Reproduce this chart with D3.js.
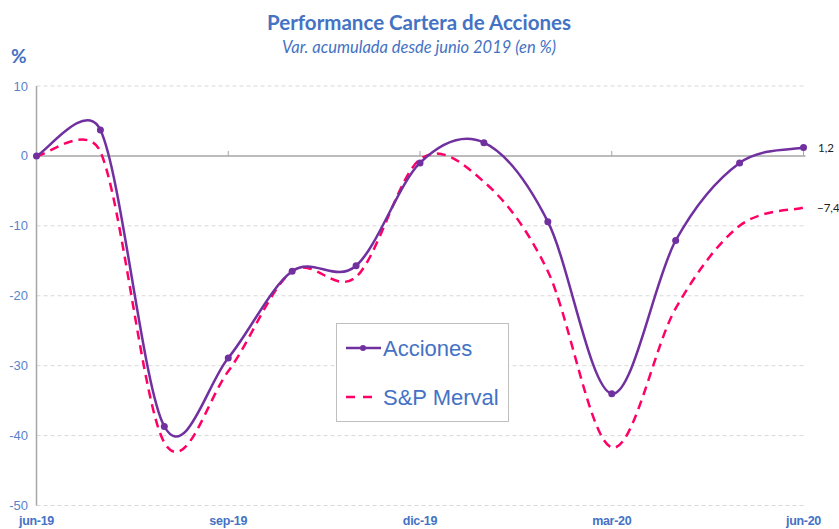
<!DOCTYPE html>
<html><head><meta charset="utf-8">
<script src="https://cdn.jsdelivr.net/npm/d3@7"></script>
<style>body{margin:0;background:#fff}svg{display:block}</style>
</head><body><svg id="c" width="839" height="529"></svg>
<script>
const months = ["jun-19","jul-19","ago-19","sep-19","oct-19","nov-19","dic-19","ene-20","feb-20","mar-20","abr-20","may-20","jun-20"];
const acciones = [0, 3.7, -38.7, -28.9, -16.5, -15.7, -1.0, 1.9, -9.4, -34.0, -12.1, -1.0, 1.2];
const merval = [0, 0.6, -41.0, -30.8, -16.5, -17.3, -0.5, -3.7, -16.5, -41.7, -21.8, -10.0, -7.4];
const yTicks = [10, 0, -10, -20, -30, -40, -50];
const xTickIdx = [0, 3, 6, 9, 12];
const seriesNames = ["Acciones", "S&P Merval"];

// Excel-style smoothed line as a d3 curve factory
function ExcelSmooth(context) { this._context = context; }
ExcelSmooth.prototype = {
  areaStart() { this._line = 0; }, areaEnd() { this._line = NaN; },
  lineStart() { this._pts = []; },
  point(x, y) { this._pts.push([+x, +y]); },
  lineEnd() {
    const p = this._pts, c = this._context, n = p.length;
    if (!n) return;
    c.moveTo(p[0][0], p[0][1]);
    const dist = (a, b) => Math.hypot(a[0] - b[0], a[1] - b[1]);
    for (let i = 0; i < n - 1; i++) {
      const p0 = p[Math.max(0, i - 1)], p1 = p[i], p2 = p[i + 1], p3 = p[Math.min(n - 1, i + 2)];
      const d12 = dist(p1, p2), d02 = dist(p0, p2), d13 = dist(p1, p3);
      const f1 = d02 > 0 ? Math.min(1 / 6, d12 / (2 * d02)) : 0;
      const f2 = d13 > 0 ? Math.min(1 / 6, d12 / (2 * d13)) : 0;
      c.bezierCurveTo(
        p1[0] + (p2[0] - p0[0]) * f1, p1[1] + (p2[1] - p0[1]) * f1,
        p2[0] - (p3[0] - p1[0]) * f2, p2[1] - (p3[1] - p1[1]) * f2,
        p2[0], p2[1]);
    }
  }
};
const curveExcel = ctx => new ExcelSmooth(ctx);

const svg = d3.select("#c");
const x = d3.scaleLinear().domain([0, 12]).range([36.5, 803.5]);
const y = d3.scaleLinear().domain([-50, 10]).range([505.5, 86]);
const blue = "#4472c4", purple = "#7030a0", pink = "#ff0066";

// grid
svg.append("g").selectAll("line").data(yTicks.filter(d => d !== 0)).join("line")
  .attr("x1", x(0)).attr("x2", x(12)).attr("y1", d => y(d)).attr("y2", d => y(d))
  .attr("stroke", "#d9d9d9").attr("stroke-dasharray", "4,3").attr("stroke-width", 1);

// zero line
svg.append("line").attr("x1", x(0)).attr("x2", x(12) + 2).attr("y1", y(0)).attr("y2", y(0))
  .attr("stroke", "#a6a6a6").attr("stroke-width", 1.5);
svg.append("g").selectAll("line").data(xTickIdx).join("line")
  .attr("x1", d => x(d)).attr("x2", d => x(d)).attr("y1", y(0)).attr("y2", y(0) - 5)
  .attr("stroke", "#a6a6a6").attr("stroke-width", 1);
// left axis
svg.append("line").attr("x1", x(0)).attr("x2", x(0)).attr("y1", y(10)).attr("y2", y(-50))
  .attr("stroke", "#a6a6a6").attr("stroke-width", 1.5);

// y labels
svg.append("g").selectAll("text").data(yTicks).join("text")
  .attr("x", 28).attr("y", d => y(d) + 4.5).attr("text-anchor", "end")
  .attr("font-family", "Liberation Sans, Arial, sans-serif").attr("font-size", 13)
  .attr("fill", "#5a82cc").text(d => d);

// x labels
svg.append("g").selectAll("text").data(xTickIdx).join("text")
  .attr("x", d => x(d)).attr("y", 525).attr("text-anchor", "middle")
  .attr("font-family", "Liberation Sans, Arial, sans-serif").attr("font-size", 12.5).attr("font-weight", "bold")
  .attr("letter-spacing", -0.3)
  .attr("fill", blue).text(d => months[d]);

// lines
const line = d3.line().x((d, i) => x(i)).y(d => y(d)).curve(curveExcel);
svg.append("path").attr("d", line(merval)).attr("fill", "none").attr("stroke", pink)
  .attr("stroke-width", 2.5).attr("stroke-dasharray", "9,6");
svg.append("path").attr("d", line(acciones)).attr("fill", "none").attr("stroke", purple)
  .attr("stroke-width", 2.5);
svg.append("g").selectAll("circle").data(acciones).join("circle")
  .attr("cx", (d, i) => x(i)).attr("cy", d => y(d)).attr("r", 3.5).attr("fill", purple);

// end labels
const endFmt = v => d3.format(".1f")(v).replace(".", ",");
svg.append("text").attr("x", 818).attr("y", y(acciones[12]) + 4)
  .attr("font-family", "Lato, sans-serif").attr("font-size", 11.5).attr("fill", "#222").text(endFmt(acciones[12]));
svg.append("text").attr("x", 817).attr("y", y(merval[12]) + 4)
  .attr("font-family", "Lato, sans-serif").attr("font-size", 11.5).attr("fill", "#222").text(endFmt(merval[12]));

// title
svg.append("text").attr("x", 419).attr("y", 30).attr("text-anchor", "middle")
  .attr("font-family", "Lato, sans-serif").attr("font-size", 20.5).attr("font-weight", "bold")
  .attr("fill", blue).text("Performance Cartera de Acciones");
svg.append("text").attr("x", 419).attr("y", 53).attr("text-anchor", "middle")
  .attr("font-family", "Lato, sans-serif").attr("font-size", 16.5).attr("font-style", "italic")
  .attr("fill", blue).text("Var. acumulada desde junio 2019 (en %)");
svg.append("text").attr("x", 11).attr("y", 63)
  .attr("font-family", "Lato, sans-serif").attr("font-size", 19).attr("font-weight", "bold")
  .attr("fill", blue).text("%");

// legend
const lg = svg.append("g");
lg.append("rect").attr("x", 336.5).attr("y", 323.5).attr("width", 172).attr("height", 98)
  .attr("fill", "#fff").attr("stroke", "#bfbfbf").attr("stroke-width", 1);
lg.append("line").attr("x1", 346).attr("x2", 381).attr("y1", 348).attr("y2", 348)
  .attr("stroke", purple).attr("stroke-width", 2.5);
lg.append("circle").attr("cx", 363).attr("cy", 348).attr("r", 3).attr("fill", purple);
lg.append("line").attr("x1", 346).attr("x2", 375).attr("y1", 397).attr("y2", 397)
  .attr("stroke", pink).attr("stroke-width", 2.5).attr("stroke-dasharray", "9,8");
lg.selectAll("text").data(seriesNames).join("text")
  .attr("x", 383).attr("y", (d, i) => 356 + i * 49)
  .attr("font-family", "Liberation Sans, Arial, sans-serif").attr("font-size", 22)
  .attr("fill", blue).text(d => d);
</script></body></html>
